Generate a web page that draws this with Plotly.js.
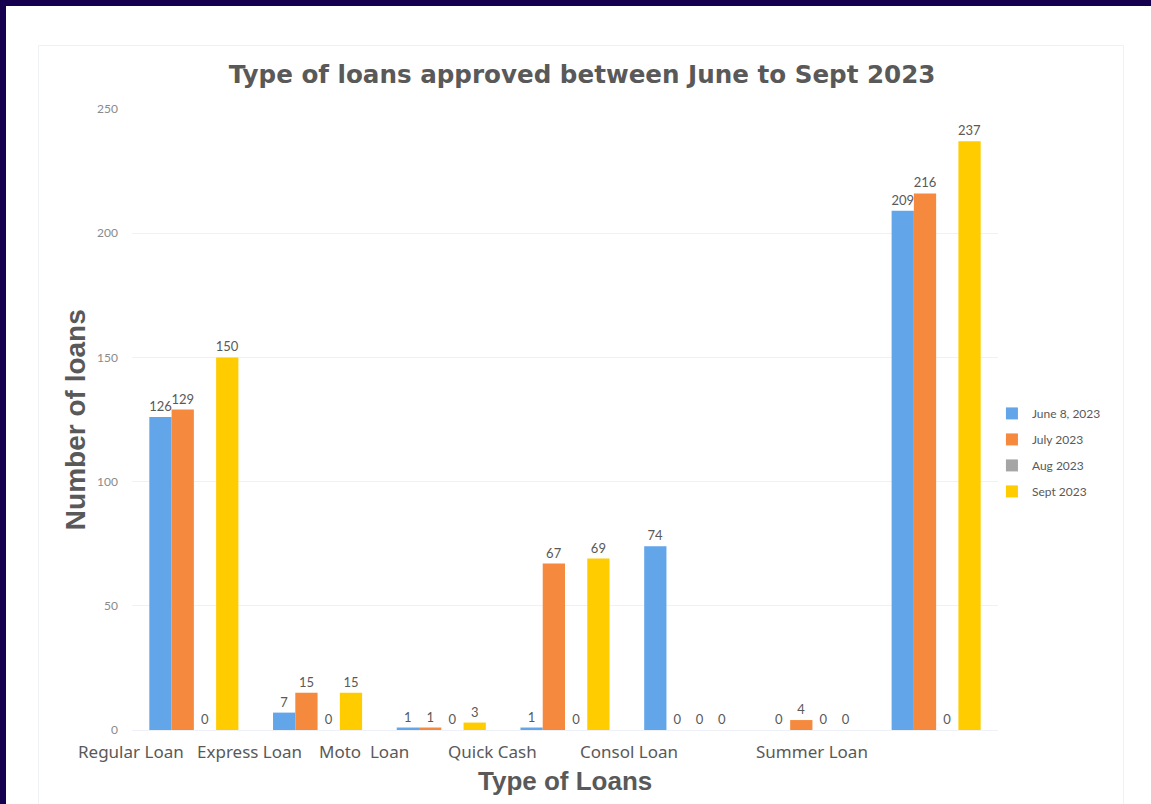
<!DOCTYPE html>
<html>
<head>
<meta charset="utf-8">
<script src="https://cdn.plot.ly/plotly-3.0.1.min.js"></script>
<style>
  html, body { margin: 0; padding: 0; background: #ffffff; }
  #wrap { position: relative; width: 1151px; height: 804px; overflow: hidden; }
  #chart { position: absolute; left: 0; top: 0; width: 1151px; height: 804px; }
  .band { position: absolute; background: #14004f; z-index: 5; }
  #card { position: absolute; left: 38px; top: 45px; width: 1086px; height: 770px;
          border: 1px solid #eef1f6; box-sizing: border-box; z-index: 4; pointer-events: none; }
</style>
</head>
<body>
<div id="wrap">
  <div id="chart"></div>
  <div id="card"></div>
  <div class="band" style="left:0;top:0;width:1151px;height:6px;"></div>
  <div class="band" style="left:0;top:0;width:6px;height:804px;"></div>
</div>
<script>
// ---- data ----
const categories = ["Regular Loan", "Express Loan", "Moto  Loan", "Quick Cash", "Consol Loan", "Summer Loan", " "];
const tickLabels = ["Regular Loan", "Express Loan", "Moto  Loan", "Quick Cash", "Consol Loan", "Summer Loan"];
const seriesNames = ["June 8, 2023", "July 2023", "Aug 2023", "Sept 2023"];
const june = [126, 7, 1, 1, 74, 0, 209];
const july = [129, 15, 1, 67, 0, 4, 216];
const aug = [0, 0, 0, 0, 0, 0, 0];
const sept = [150, 15, 3, 69, 0, 0, 237];
const yTicks = [0, 50, 100, 150, 200, 250];

// ---- styling ----
const colors = ["#62a6e9", "#f5893d", "#a5a5a5", "#ffcc00"];
const labelShift = [-63, -68, -77, -73, -60, 0];
const textFont = { family: "Lato, 'Noto Sans', sans-serif", size: 13, color: "#595959" };

const seriesValues = [june, july, aug, sept];
const traces = seriesValues.map((vals, i) => ({
  type: "bar",
  name: seriesNames[i],
  legendgroup: "g" + i,
  x: categories,
  y: vals,
  marker: { color: colors[i], line: { width: 0 } },
  text: vals.map(String),
  textposition: "outside",
  textfont: textFont,
  constraintext: "none",
  cliponaxis: false,
  hoverinfo: "x+y+name"
}));

const annotations = tickLabels.map((t, i) => ({
  x: categories[i], xref: "x",
  y: -0.0354, yref: "paper",
  xshift: labelShift[i],
  text: t, showarrow: false,
  xanchor: "center", yanchor: "middle",
  font: { family: "'Noto Sans', sans-serif", size: 17, color: "#595959" }
}));
annotations.push({
  x: 0.5, xref: "paper", y: -0.0821, yref: "paper",
  text: "<b>Type of Loans</b>", showarrow: false, xanchor: "center", yanchor: "middle",
  font: { family: "'Liberation Sans', Arial, sans-serif", size: 26, color: "#595959" }
});
annotations.push({
  x: -0.0658, xref: "paper", y: 0.499, yref: "paper",
  text: "<b>Number of loans</b>", textangle: -90, showarrow: false, xanchor: "center", yanchor: "middle",
  font: { family: "'Liberation Sans', Arial, sans-serif", size: 28, color: "#595959" }
});

const layout = {
  width: 1151, height: 804,
  margin: { l: 132, r: 153, t: 109, b: 74, pad: 0 },
  paper_bgcolor: "#ffffff",
  plot_bgcolor: "#ffffff",
  title: {
    text: "<b>Type of loans approved between June to Sept 2023</b>",
    xref: "container", yref: "container",
    x: 0.5057, y: 0.908, xanchor: "center", yanchor: "middle",
    font: { family: "'DejaVu Sans', sans-serif", size: 24.6, color: "#595959" }
  },
  barmode: "group",
  bargap: 0.28,
  bargroupgap: 0,
  xaxis: {
    type: "category",
    categoryorder: "array",
    categoryarray: categories,
    range: [-0.5, categories.length - 0.5],
    autorange: false,
    showticklabels: false,
    showgrid: false,
    zeroline: false,
    showline: false,
    ticks: ""
  },
  yaxis: {
    range: [0, 250],
    autorange: false,
    tickvals: yTicks,
    ticktext: yTicks.map(String),
    showgrid: true,
    gridcolor: "#eef2f8",
    gridwidth: 1,
    zeroline: true,
    zerolinecolor: "#eef2f8",
    zerolinewidth: 1,
    showline: false,
    ticks: "",
    ticklabelstandoff: 13,
    tickfont: { family: "Lato, 'Noto Sans', sans-serif", size: 12, color: "#8a8a8a" }
  },
  legend: {
    x: 0.993, xanchor: "left",
    y: 0.447, yanchor: "middle",
    traceorder: "grouped",
    tracegroupgap: 7,
    bgcolor: "rgba(0,0,0,0)",
    font: { family: "Lato, 'Noto Sans', sans-serif", size: 12, color: "#595959" }
  },
  annotations: annotations,
  showlegend: true
};

Plotly.newPlot("chart", traces, layout, { displayModeBar: false, staticPlot: true });
</script>
</body>
</html>
